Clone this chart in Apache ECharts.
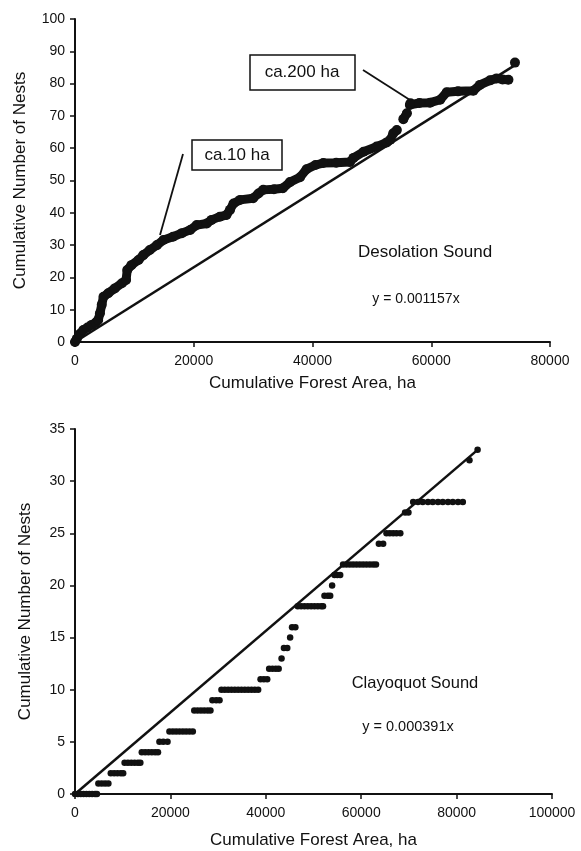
<!DOCTYPE html>
<html><head><meta charset="utf-8">
<script src="https://cdn.jsdelivr.net/npm/echarts@6/dist/echarts.min.js"></script>
<style>html,body{margin:0;padding:0;background:#fff}#c{width:581px;height:851px}</style>
</head><body><div id="c"></div>
<script>
// Desolation Sound (top) — cumulative forest area (ha) vs cumulative nests; null = gap in the trace
const dsX = [0, 300, 800, 1400, 2100, 2800, 3500, 3900, 4200, 4500, 4800, 5600, 6700, 7900, 8600, 8800, 9500, 10700, 11500, 12600, 13800, 14900, 16500, 18000, 19400, 20500, 22200, 23000, 24400, 25500, 26100, 26700, 27800, 30000, 30900, 31700, 33500, 35000, 36200, 37900, 39000, 40500, 41800, 44000, 46300, 46900, 48600, 50800, 52500, 53100, 53600, 54200, null, 55300, 55900, null, 56400, 56500, 58000, 59800, 61500, 62600, 64500, 67100, 68200, 69900, 71000, 72000, 73000, null, 74100];
const dsY = [0, 1, 2.5, 3.7, 4.5, 5.3, 6, 6.8, 8.9, 11.5, 14, 15.1, 16.6, 18.2, 19.2, 22.3, 23.8, 25.4, 26.9, 28.5, 30, 31.6, 32.6, 33.7, 34.7, 36.2, 36.7, 37.8, 38.8, 39.3, 40.9, 42.9, 44, 44.5, 46, 47.1, 47.3, 47.6, 49.5, 51, 53.5, 54.8, 55.4, 55.5, 55.7, 57, 58.9, 60.5, 61.8, 62.6, 64.6, 65.6, null, 69, 70.8, null, 73.4, 73.9, 74, 74.1, 75, 77.3, 77.6, 77.8, 79.6, 81, 81.6, 81.3, 81.2, null, 86.5];
const dsSlope = 0.001157;
const dsFitEnd = 74100;
const dsXTicks = [0, 20000, 40000, 60000, 80000];
const dsYTicks = [0, 10, 20, 30, 40, 50, 60, 70, 80, 90, 100];

// Clayoquot Sound (bottom)
const cqX = [0, 600, 1200, 1800, 2400, 3000, 3600, 4200, 4600,
  4900, 5600, 6300, 7000,
  7500, 8200, 8900, 9600, 10100,
  10400, 11100, 11800, 12500, 13200, 13700,
  14000, 14700, 15400, 16100, 16800, 17400,
  17700, 18500, 19400,
  19800, 20500, 21200, 21900, 22600, 23300, 24000, 24700,
  25000, 25700, 26400, 27100, 27800, 28400,
  28800, 29600, 30300,
  30700, 31400, 32100, 32800, 33500, 34200, 34900, 35600, 36300, 37000, 37700, 38400,
  38900, 39600, 40300,
  40700, 41400, 42100, 42700,
  43300,
  43800, 44500,
  45100,
  45500, 46200,
  46700, 47400, 48100, 48800, 49500, 50200, 50900, 51600, 52000,
  52300, 53000, 53500,
  53900,
  54400, 55000, 55600,
  56200, 56900, 57600, 58300, 59000, 59700, 60400, 61100, 61800, 62500, 63100,
  63700, 64600,
  65300, 66000, 66700, 67400, 68200,
  69200, 69900,
  70900, 71900, 72900, 74000, 75000, 76100, 77100, 78200, 79200, 80300, 81300,
  82700,
  84400];
const cqY = [0, 0, 0, 0, 0, 0, 0, 0, 0,
  1, 1, 1, 1,
  2, 2, 2, 2, 2,
  3, 3, 3, 3, 3, 3,
  4, 4, 4, 4, 4, 4,
  5, 5, 5,
  6, 6, 6, 6, 6, 6, 6, 6,
  8, 8, 8, 8, 8, 8,
  9, 9, 9,
  10, 10, 10, 10, 10, 10, 10, 10, 10, 10, 10, 10,
  11, 11, 11,
  12, 12, 12, 12,
  13,
  14, 14,
  15,
  16, 16,
  18, 18, 18, 18, 18, 18, 18, 18, 18,
  19, 19, 19,
  20,
  21, 21, 21,
  22, 22, 22, 22, 22, 22, 22, 22, 22, 22, 22,
  24, 24,
  25, 25, 25, 25, 25,
  27, 27,
  28, 28, 28, 28, 28, 28, 28, 28, 28, 28, 28,
  32,
  33];
const cqSlope = 0.000391;
const cqFitEnd = 84400;
const cqXTicks = [0, 20000, 40000, 60000, 80000, 100000];
const cqYTicks = [0, 5, 10, 15, 20, 25, 30, 35];

const FONT = 'Liberation Sans, Arial, sans-serif';
const INK = '#111111';

function segments(xs, ys) {
  const segs = []; let cur = [];
  for (let i = 0; i < xs.length; i++) {
    if (xs[i] === null) { if (cur.length) segs.push(cur); cur = []; }
    else cur.push([xs[i], ys[i]]);
  }
  if (cur.length) segs.push(cur);
  return segs;
}

function xAxis(idx, ticks, gap) {
  return {
    type: 'value', gridIndex: idx, min: ticks[0], max: ticks[ticks.length - 1], interval: ticks[1] - ticks[0],
    name: 'Cumulative Forest Area, ha', nameLocation: 'middle', nameGap: gap,
    nameTextStyle: { fontFamily: FONT, fontSize: 17, color: INK },
    axisLine: { show: true, onZero: false, lineStyle: { color: INK, width: 2 } },
    axisTick: { show: true, length: 5, lineStyle: { color: INK, width: 1.5 } },
    axisLabel: { fontFamily: FONT, fontSize: 14, color: INK, margin: 12, formatter: v => String(v) },
    splitLine: { show: false }
  };
}
function yAxis(idx, ticks, gap) {
  return {
    type: 'value', gridIndex: idx, min: ticks[0], max: ticks[ticks.length - 1], interval: ticks[1] - ticks[0],
    name: 'Cumulative Number of Nests', nameLocation: 'middle', nameGap: gap, nameRotate: 90,
    nameTextStyle: { fontFamily: FONT, fontSize: 17, color: INK },
    axisLine: { show: true, onZero: false, lineStyle: { color: INK, width: 2 } },
    axisTick: { show: true, length: 5, lineStyle: { color: INK, width: 1.5 } },
    axisLabel: { fontFamily: FONT, fontSize: 14, color: INK, margin: 10, formatter: v => String(v) },
    splitLine: { show: false }
  };
}

const series = [];
segments(dsX, dsY).forEach(seg => {
  series.push({
    type: 'line', xAxisIndex: 0, yAxisIndex: 0, data: seg, clip: false,
    symbol: 'circle', symbolSize: 10, showAllSymbol: true,
    itemStyle: { color: INK, opacity: 1 }, lineStyle: { color: INK, width: 9, join: 'round', cap: 'round' },
    z: 3, animation: false
  });
});
series.push({
  type: 'line', xAxisIndex: 0, yAxisIndex: 0, data: [[0, 0], [dsFitEnd, dsSlope * dsFitEnd]],
  symbol: 'none', lineStyle: { color: INK, width: 2.5 }, z: 2, animation: false
});
series.push({
  type: 'scatter', xAxisIndex: 1, yAxisIndex: 1, data: cqX.map((x, i) => [x, cqY[i]]), clip: false,
  symbol: 'circle', symbolSize: 6.5, itemStyle: { color: INK, opacity: 1 }, z: 3, animation: false
});
series.push({
  type: 'line', xAxisIndex: 1, yAxisIndex: 1, data: [[0, 0], [cqFitEnd, cqSlope * cqFitEnd]],
  symbol: 'none', lineStyle: { color: INK, width: 2.5 }, z: 2, animation: false
});

const txt = (x, y, t, size) => ({ type: 'text', x, y, z: 10,
  style: { text: t, fontFamily: FONT, fontSize: size, fill: INK, align: 'center', verticalAlign: 'middle' } });

const chart = echarts.init(document.getElementById('c'), null, { renderer: 'canvas' });
chart.setOption({
  backgroundColor: '#fff',
  animation: false,
  grid: [
    { left: 75, top: 19, width: 475, height: 323 },
    { left: 75, top: 429, width: 477, height: 365 }
  ],
  xAxis: [xAxis(0, dsXTicks, 33), xAxis(1, cqXTicks, 38)],
  yAxis: [yAxis(0, dsYTicks, 46), yAxis(1, cqYTicks, 41)],
  series,
  graphic: [
    { type: 'line', z: 10, shape: { x1: 183, y1: 154, x2: 160, y2: 235 }, style: { stroke: INK, lineWidth: 1.8 } },
    { type: 'rect', z: 10, shape: { x: 192, y: 140, width: 90, height: 30 }, style: { fill: '#fff', stroke: INK, lineWidth: 1.5 } },
    txt(237, 155, 'ca.10 ha', 17),
    { type: 'line', z: 10, shape: { x1: 363, y1: 70, x2: 410, y2: 100 }, style: { stroke: INK, lineWidth: 1.8 } },
    { type: 'rect', z: 10, shape: { x: 250, y: 55, width: 105, height: 35 }, style: { fill: '#fff', stroke: INK, lineWidth: 1.5 } },
    txt(302, 72, 'ca.200 ha', 17),
    txt(425, 252, 'Desolation Sound', 17),
    txt(416, 299, 'y = 0.001157x', 14),
    txt(415, 683, 'Clayoquot Sound', 16.5),
    txt(408, 727, 'y = 0.000391x', 14.5)
  ]
});
</script></body></html>
